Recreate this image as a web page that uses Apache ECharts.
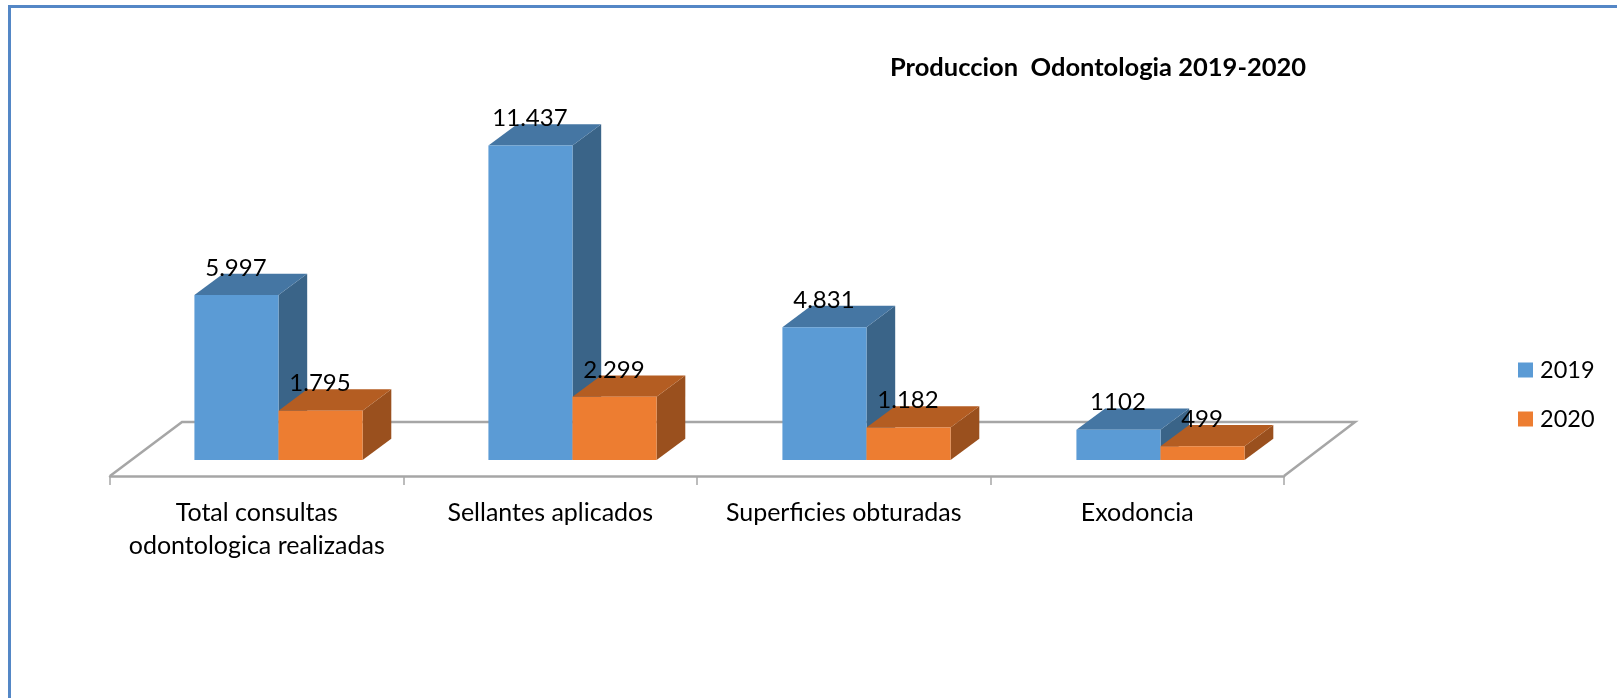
<!DOCTYPE html>
<html>
<head>
<meta charset="utf-8">
<style>html,body{margin:0;padding:0;background:#fff}#c{width:1617px;height:698px}</style>
<script src="https://cdn.jsdelivr.net/npm/echarts@6/dist/echarts.min.js"></script>
</head>
<body>
<div id="c"></div>
<script>
const titleText = 'Produccion  Odontologia 2019-2020';
const categories = ['Total consultas\nodontologica realizadas', 'Sellantes aplicados', 'Superficies obturadas', 'Exodoncia'];
const values2019 = [5997, 11437, 4831, 1102];
const values2020 = [1795, 2299, 1182, 499];
const labels2019 = ['5.997', '11.437', '4.831', '1102'];
const labels2020 = ['1.795', '2.299', '1.182', '499'];

const FONT = 'Lato';
const DX = 28.7, DY = 21.3, BAR_RATIO = 0.286, LABEL_UP = 27;

function bar3d(offsetIdx, texts, front, top, side) {
  return function (params, api) {
    const i = api.value(0), v = api.value(1);
    const base = api.coord([i, 0]);
    const head = api.coord([i, v]);
    const w = api.size([1, 0])[0] * BAR_RATIO;
    const x0 = base[0] + offsetIdx * w, x1 = x0 + w;
    const y0 = base[1], y1 = head[1];
    return {
      type: 'group',
      children: [
        { type: 'polygon', shape: { points: [[x1, y0], [x1, y1], [x1 + DX, y1 - DY], [x1 + DX, y0 - DY]] }, style: { fill: side } },
        { type: 'polygon', shape: { points: [[x0, y1], [x0 + DX, y1 - DY], [x1 + DX, y1 - DY], [x1, y1]] }, style: { fill: top } },
        { type: 'rect', shape: { x: x0, y: y1, width: w, height: y0 - y1 }, style: { fill: front } },
        { type: 'text', z2: 100, style: { x: (x0 + x1) / 2 - 0.5, y: y1 - LABEL_UP, text: texts[params.dataIndex], font: '24px ' + FONT, fill: '#000', align: 'center', verticalAlign: 'middle' } }
      ]
    };
  };
}

const chart = echarts.init(document.getElementById('c'), null, { renderer: 'canvas' });
const FLOOR = '#a6a6a6', FRAME = '#5487c6';
chart.setOption({
  animation: false,
  backgroundColor: '#fff',
  title: { text: titleText, left: 885, top: 50, textStyle: { fontFamily: FONT, fontWeight: 'bold', fontSize: 25.5, color: '#000' } },
  legend: {
    orient: 'vertical', left: 1513, top: 353, itemWidth: 15, itemHeight: 15, itemGap: 25,
    icon: 'rect',
    textStyle: { fontFamily: FONT, fontSize: 23.5, color: '#000', padding: [0, 0, 0, 2] },
    data: ['2019', '2020']
  },
  grid: [
    { left: 131.5, top: 130, width: 1176, height: 330 },
    { left: 110, top: 420, width: 1174, height: 56 }
  ],
  xAxis: [
    { type: 'category', gridIndex: 0, data: categories, show: false },
    {
      type: 'category', gridIndex: 1, data: categories, position: 'bottom',
      axisLine: { show: true, lineStyle: { color: FLOOR, width: 2.5 } },
      axisTick: { show: true, length: 9, lineStyle: { color: FLOOR, width: 1.5 } },
      axisLabel: { interval: 0, margin: 20, fontFamily: FONT, fontSize: 25, lineHeight: 33, color: '#000', align: 'center' }
    }
  ],
  yAxis: [
    { type: 'value', gridIndex: 0, min: 0, max: 12000, show: false },
    { type: 'value', gridIndex: 1, min: 0, max: 1, show: false }
  ],
  series: [
    { name: '2019', type: 'custom', xAxisIndex: 0, yAxisIndex: 0, z: 3, itemStyle: { color: '#5B9BD5' }, encode: { x: 0, y: 1 },
      data: values2019.map((v, i) => [i, v]), renderItem: bar3d(-1, labels2019, '#5B9BD5', '#4576A3', '#3A6488') },
    { name: '2020', type: 'custom', xAxisIndex: 0, yAxisIndex: 0, z: 4, itemStyle: { color: '#ED7D31' }, encode: { x: 0, y: 1 },
      data: values2020.map((v, i) => [i, v]), renderItem: bar3d(0, labels2020, '#ED7D31', '#B45D22', '#9A501E') }
  ],
  graphic: [
    { type: 'polyline', z: 1, silent: true, shape: { points: [[110, 476], [182, 422], [1355, 422], [1284, 476]] }, style: { stroke: FLOOR, lineWidth: 2.5, fill: null } },
    { type: 'rect', z: 1, silent: true, shape: { x: 8, y: 5, width: 1609, height: 3 }, style: { fill: FRAME } },
    { type: 'rect', z: 1, silent: true, shape: { x: 8, y: 5, width: 3, height: 693 }, style: { fill: FRAME } }
  ]
});
</script>
</body>
</html>
